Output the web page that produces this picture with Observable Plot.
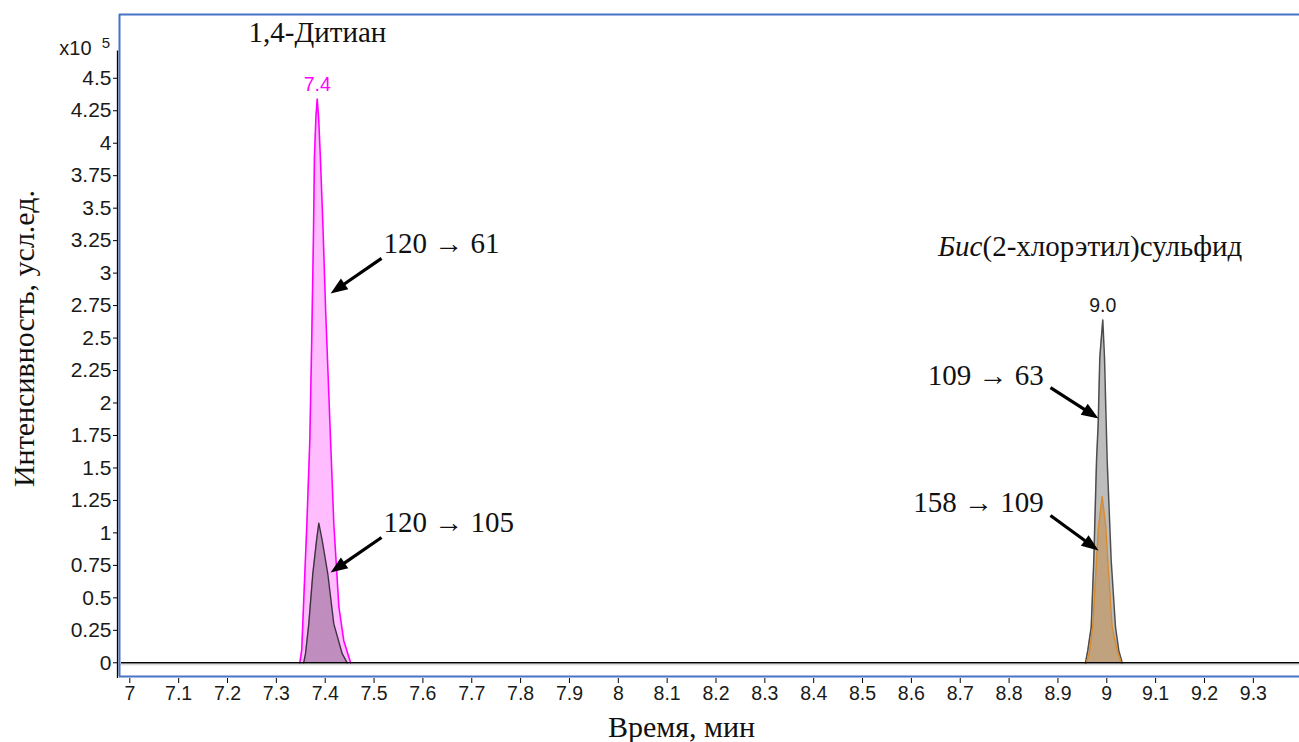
<!DOCTYPE html>
<html>
<head>
<meta charset="utf-8">
<script src="https://cdn.jsdelivr.net/npm/d3@7"></script>
<script src="https://cdn.jsdelivr.net/npm/@observablehq/plot@0.6"></script>
<style>
  html, body { margin: 0; padding: 0; background: #fff; }
  #chart svg { display: block; }
</style>
</head>
<body>
<div id="chart"></div>
<script>
// MRM chromatogram traces: retention time (min) and intensity (×10^5 a.u.)
const dithiane61Time = [7.348, 7.352, 7.3555, 7.3625, 7.3685, 7.3725, 7.376, 7.378, 7.381, 7.3836,
                        7.3865, 7.390, 7.395, 7.401, 7.411, 7.4176, 7.428, 7.438, 7.452];
const dithiane61Int  = [0, 0.10, 0.43, 1.07, 1.71, 2.50, 3.30, 3.90, 4.20, 4.34,
                        4.20, 3.90, 3.40, 2.70, 1.71, 1.07, 0.43, 0.17, 0];

const dithiane105Time = [7.356, 7.3597, 7.3664, 7.3746, 7.3822, 7.3869, 7.3939, 7.4053, 7.4176, 7.4348, 7.445];
const dithiane105Int  = [0, 0.07, 0.30, 0.685, 0.94, 1.075, 0.94, 0.685, 0.30, 0.07, 0];

const mustard63Time = [8.9564, 8.9611, 8.9681, 8.9734, 8.979, 8.9824, 8.9857, 8.9918,
                       8.9953, 8.9988, 9.0008, 9.009, 9.0178, 9.0245, 9.0315];
const mustard63Int  = [0, 0.095, 0.274, 0.788, 1.557, 1.84, 2.35, 2.64,
                       2.35, 1.84, 1.557, 0.788, 0.274, 0.095, 0];

const mustard109Time = [8.9585, 8.9652, 8.9713, 8.979, 8.983, 8.9906, 8.998, 9.002, 9.011, 9.0213, 9.0294];
const mustard109Int  = [0, 0.095, 0.274, 0.788, 1.044, 1.28, 1.044, 0.788, 0.274, 0.095, 0];

// Axis ticks
const xTicks = [7, 7.1, 7.2, 7.3, 7.4, 7.5, 7.6, 7.7, 7.8, 7.9, 8, 8.1, 8.2, 8.3, 8.4, 8.5, 8.6, 8.7, 8.8, 8.9, 9, 9.1, 9.2, 9.3];
const yTicks = [0, 0.25, 0.5, 0.75, 1, 1.25, 1.5, 1.75, 2, 2.25, 2.5, 2.75, 3, 3.25, 3.5, 3.75, 4, 4.25, 4.5];

// Transition labels and their arrows (time, intensity)
const transitionText   = ["120 → 61", "120 → 105", "109 → 63", "158 → 109"];
const transitionTime   = [7.5192, 7.5192, 8.8707, 8.8707];
const transitionInt    = [3.228, 1.080, 2.212, 1.234];
const transitionAnchor = ["start", "start", "end", "end"];
const arrowFromTime = [7.5153, 7.5153, 8.8847, 8.8847];
const arrowFromInt  = [3.113, 0.965, 2.119, 1.134];
const arrowToTime   = [7.411, 7.411, 8.983, 8.983];
const arrowToInt    = [2.844, 0.695, 1.881, 0.865];

// Compound names
const compoundPrefix = ["", "Бис"];
const compoundName   = ["1,4-Дитиан", "(2-хлорэтил)сульфид"];
const compoundTime   = [7.384, 8.7455];
const compoundInt    = [4.852, 3.205];

const width = 1299, height = 742;
const marginLeft = 119, marginRight = 0, marginTop = 14, marginBottom = 66;
const xDomain = [6.9789, 9.3945];
const yDomain = [-0.1055, 4.991];

const serif = "'Liberation Serif', 'Times New Roman', serif";
const sans = "'Liberation Sans', Arial, sans-serif";

const trace = (time, value) => time.map((t, i) => ({t, v: value[i]}));
const tr61 = trace(dithiane61Time, dithiane61Int);
const tr105 = trace(dithiane105Time, dithiane105Int);
const tr63 = trace(mustard63Time, mustard63Int);
const tr109 = trace(mustard109Time, mustard109Int);

// Apex of the main trace of each compound, labelled with its retention time
const apex = d => d.reduce((a, b) => (b.v > a.v ? b : a));
const apexes = [
  {...apex(tr61), color: "#ff00ff"},
  {...apex(tr63), color: "#1a1a1a"}
];

// Screen-space helpers for the filled arrowheads
const xs = Plot.scale({x: {domain: xDomain, range: [marginLeft, width - marginRight]}});
const ys = Plot.scale({y: {domain: yDomain, range: [height - marginBottom, marginTop]}});
const headLen = 17, headHalf = 6.5;
const arrows = transitionText.map((_, i) => {
  const x1 = xs.apply(arrowFromTime[i]), y1 = ys.apply(arrowFromInt[i]);
  const x2 = xs.apply(arrowToTime[i]), y2 = ys.apply(arrowToInt[i]);
  const len = Math.hypot(x2 - x1, y2 - y1);
  const ux = (x2 - x1) / len, uy = (y2 - y1) / len;
  return {
    t1: arrowFromTime[i], v1: arrowFromInt[i],
    t2: arrowToTime[i], v2: arrowToInt[i],
    ts: xs.invert(x2 - ux * (headLen - 3)), vs: ys.invert(y2 - uy * (headLen - 3)),
    angle: Math.atan2(x2 - x1, -(y2 - y1)) * 180 / Math.PI
  };
});
const arrowHead = {
  draw(context, size) {
    const r = Math.sqrt(size / Math.PI) / 10;
    context.moveTo(0, 0);
    context.lineTo(-headHalf * r, headLen * r);
    context.lineTo(headHalf * r, headLen * r);
    context.closePath();
  }
};

const labels = transitionText.map((text, i) => ({
  text, t: transitionTime[i], v: transitionInt[i], anchor: transitionAnchor[i]
}));
const compounds = compoundName.map((name, i) => ({
  name, prefix: compoundPrefix[i], t: compoundTime[i], v: compoundInt[i]
}));

const serifSize = 29;
const tickText = "#1a1a1a";

const chart = Plot.plot({
  width, height, marginLeft, marginRight, marginTop, marginBottom,
  style: {fontFamily: sans, background: "#fff", overflow: "visible"},
  x: {domain: xDomain, axis: null},
  y: {domain: yDomain, axis: null},
  marks: [
    // 1,4-dithiane: 120 → 61 and 120 → 105
    Plot.areaY(tr61, {x: "t", y: "v", fill: "#ffbdff"}),
    Plot.line(tr61, {x: "t", y: "v", stroke: "#ff00ff", strokeWidth: 1.6}),
    Plot.areaY(tr105, {x: "t", y: "v", fill: "#bf8ebf"}),
    Plot.line(tr105, {x: "t", y: "v", stroke: "#3d323d", strokeWidth: 1.4}),
    // bis(2-chloroethyl) sulfide: 109 → 63 and 158 → 109
    Plot.areaY(tr63, {x: "t", y: "v", fill: "#bdbdbd"}),
    Plot.line(tr63, {x: "t", y: "v", stroke: "#4d4d4d", strokeWidth: 1.5}),
    Plot.areaY(tr109, {x: "t", y: "v", fill: "#c0a27f"}),
    Plot.line(tr109, {x: "t", y: "v", stroke: "#d98b2b", strokeWidth: 1.4}),

    // baseline
    Plot.ruleY([0], {x1: xDomain[0], x2: xDomain[1], stroke: "#d0d0d0", strokeWidth: 1, dy: 2}),
    Plot.ruleY([0], {x1: xDomain[0], x2: xDomain[1], stroke: "#000", strokeWidth: 1.5, dx: 2}),

    // plot frame (top, bottom, left)
    Plot.ruleY([yDomain[1], yDomain[0]], {stroke: "#4673c6", strokeWidth: 2}),
    Plot.ruleX([xDomain[0]], {stroke: "#4673c6", strokeWidth: 2}),

    // y axis: line, ticks, labels
    Plot.ruleX([xDomain[0]], {y1: -0.12, y2: 4.71, stroke: "#000", strokeWidth: 1.3, dx: -2}),
    Plot.axisY({ticks: yTicks, tickSize: 4, dx: -2, tickFormat: () => "", stroke: "#000"}),
    Plot.text(yTicks, {x: xDomain[0], y: d => d, text: d => String(d), textAnchor: "end",
      dx: -8, fontSize: 21, fill: tickText}),
    // x axis: ticks, labels
    Plot.axisX({ticks: xTicks, anchor: "bottom", tickSize: 5, dy: 2, tickFormat: () => "", stroke: "#000"}),
    Plot.text(xTicks, {x: d => d, y: yDomain[0], text: d => String(d), lineAnchor: "top",
      dy: 10, fontSize: 19.5, fill: tickText}),

    // ×10^5 multiplier
    Plot.text(["x10"], {x: 6.8888, y: 4.729, fontSize: 20, fill: tickText, textAnchor: "middle"}),
    Plot.text(["5"], {x: 6.951, y: 4.772, fontSize: 15, fill: tickText, textAnchor: "middle"}),

    // apex retention times
    Plot.text(apexes, {x: "t", y: "v", text: d => d.t.toFixed(1), fill: "color", fontSize: 19.5, dy: -14}),

    // compound names
    Plot.text(compounds.filter(d => !d.prefix), {x: "t", y: "v", text: "name", fontFamily: serif,
      fontSize: serifSize, fill: "#111", textAnchor: "middle"}),
    Plot.text(compounds.filter(d => d.prefix), {x: "t", y: "v", text: "name", fontFamily: serif,
      fontSize: serifSize, fill: "#111", textAnchor: "start"}),
    Plot.text(compounds.filter(d => d.prefix), {x: "t", y: "v", text: "prefix", fontFamily: serif,
      fontSize: serifSize, fontStyle: "italic", fill: "#111", textAnchor: "end"}),

    // transition labels with arrows
    Plot.text(labels.filter(d => d.anchor === "start"), {x: "t", y: "v", text: "text", textAnchor: "start",
      fontFamily: serif, fontSize: serifSize, fill: "#111"}),
    Plot.text(labels.filter(d => d.anchor === "end"), {x: "t", y: "v", text: "text", textAnchor: "end",
      fontFamily: serif, fontSize: serifSize, fill: "#111"}),
    Plot.link(arrows, {x1: "t1", y1: "v1", x2: "ts", y2: "vs", stroke: "#000", strokeWidth: 3.2}),
    Plot.dot(arrows, {x: "t2", y: "v2", r: 10, symbol: arrowHead, rotate: "angle", fill: "#000", stroke: "none"}),

    // axis titles
    Plot.text(["Время, мин"], {x: 8.1294, y: -0.498, fontFamily: serif, fontSize: 30, fill: "#111"}),
    Plot.text(["Интенсивность, усл.ед."], {x: 6.7844, y: 2.4965, rotate: -90, fontFamily: serif, fontSize: 30, fill: "#111"})
  ]
});

document.getElementById("chart").append(chart);
</script>
</body>
</html>
